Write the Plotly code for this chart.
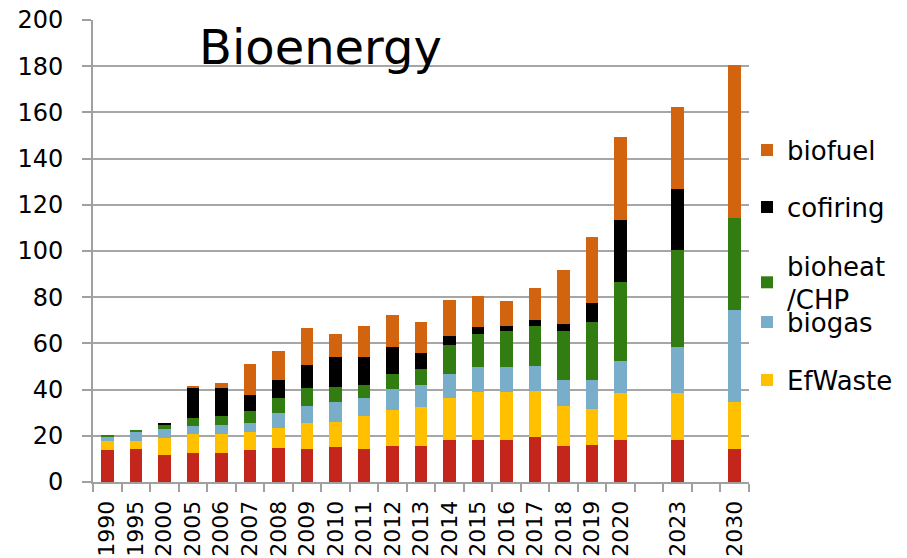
import plotly.graph_objects as go

years = ["1990", "1995", "2000", "2005", "2006", "2007", "2008", "2009", "2010",
         "2011", "2012", "2013", "2014", "2015", "2016", "2017", "2018", "2019",
         "2020", "", "2023", "", "2030"]

other = [13.7, 14.3, 11.5, 12.7, 12.4, 13.7, 14.6, 14.5, 15.2, 14.5, 15.5, 15.8,
         18.0, 18.4, 18.4, 19.3, 15.8, 16.2, 18.4, None, 18.4, None, 14.5]
efwaste = [4.0, 3.4, 7.4, 7.9, 8.2, 7.9, 8.6, 10.9, 10.6, 13.9, 15.5, 16.5,
           18.2, 20.4, 20.4, 20.0, 17.0, 15.2, 20.0, None, 20.0, None, 20.0]
biogas = [1.6, 3.9, 4.0, 3.5, 3.9, 3.9, 6.5, 7.4, 8.7, 7.8, 9.1, 9.6,
          10.5, 10.9, 10.9, 10.8, 11.3, 12.7, 13.9, None, 20.0, None, 40.0]
bioheat = [0.9, 0.9, 1.6, 3.6, 3.9, 5.1, 6.5, 7.8, 6.7, 5.7, 6.6, 6.9,
           12.6, 14.4, 15.7, 17.4, 21.3, 25.3, 34.4, None, 42.2, None, 40.0]
cofiring = [0, 0, 0.9, 13.0, 12.1, 6.9, 7.8, 10.0, 12.9, 12.2, 11.7, 7.0,
            3.9, 3.0, 2.1, 2.6, 3.0, 8.1, 26.9, None, 26.1, None, 0]
biofuel = [0, 0, 0, 0.7, 2.2, 13.4, 12.6, 16.1, 10.0, 13.4, 13.9, 13.5,
           15.6, 13.5, 10.9, 14.0, 23.5, 28.5, 35.7, None, 35.6, None, 66.0]

xpos = list(range(len(years)))
tick_x = [i for i, y in enumerate(years) if y]
tick_t = [y for y in years if y]

series = [
    ("other", other, "#C4261C", None),
    ("EfWaste", efwaste, "#FFC000", "legend5"),
    ("biogas", biogas, "#79AECB", "legend4"),
    ("bioheat<br>/CHP", bioheat, "#327D12", "legend3"),
    ("cofiring", cofiring, "#000000", "legend2"),
    ("biofuel", biofuel, "#D2640F", "legend"),
]

fig = go.Figure()
for name, vals, color, leg in series:
    fig.add_trace(go.Bar(
        x=xpos, y=vals, name=name, marker=dict(color=color, line=dict(width=0)),
        width=0.44, showlegend=leg is not None, legend=leg if leg else "legend",
    ))

font = "DejaVu Sans, Verdana, sans-serif"
PL, PR, PT, PB = 93, 749, 20, 482
leg_y = [150, 207, 264, 322, 380]
legends = {}
for i, key in enumerate(["legend", "legend2", "legend3", "legend4", "legend5"]):
    py = leg_y[i]
    legends[key] = dict(
        x=(PR - 2 - PL) / (PR - PL), xanchor="left", xref="paper",
        y=(PB - py) / (PB - PT), yanchor="middle",
        font=dict(family=font, size=26, color="#000"),
        bgcolor="rgba(0,0,0,0)", borderwidth=0,
        itemclick=False,
    )
legends["legend3"]["y"] = (PB - 264 + 22) / (PB - PT)
legends["legend3"]["yanchor"] = "top"

fig.update_layout(
    width=907, height=558,
    barmode="stack",
    plot_bgcolor="white", paper_bgcolor="white",
    margin=dict(l=PL, r=907 - PR, t=PT, b=558 - PB, autoexpand=False),
    font=dict(family=font, size=24, color="#000"),
    **legends,
    xaxis=dict(
        range=[-0.5, len(years) - 0.5], automargin=False,
        tickmode="array", tickvals=tick_x, ticktext=tick_t,
        tickangle=-90, tickfont=dict(size=22), ticklabelstandoff=8,
        ticks="", showgrid=False,
        showline=True, linecolor="#A0A0A0", linewidth=2,
        minor=dict(tick0=0.5, dtick=1, ticks="outside", ticklen=8,
                   tickcolor="#A0A0A0", tickwidth=2, showgrid=False),
        zeroline=False,
    ),
    yaxis=dict(
        range=[0, 200], dtick=20, tickfont=dict(size=24), automargin=False,
        ticks="outside", ticklen=9, tickcolor="#A0A0A0", tickwidth=2,
        ticklabelstandoff=14,
        showgrid=True, gridcolor="#A6A6A6", gridwidth=2,
        showline=True, linecolor="#A0A0A0", linewidth=2,
        zeroline=False,
    ),
    annotations=[dict(
        text="Bioenergy", xref="paper", yref="paper",
        x=(197 - PL) / (PR - PL), y=(PB - 47) / (PB - PT),
        xanchor="left", yanchor="middle", showarrow=False,
        font=dict(family=font, size=48, color="#000"),
    )],
)

fig.write_html(
    "out.html",
    config={"displayModeBar": False},
    post_script="document.body.style.margin='0';document.body.style.overflow='hidden';",
)
